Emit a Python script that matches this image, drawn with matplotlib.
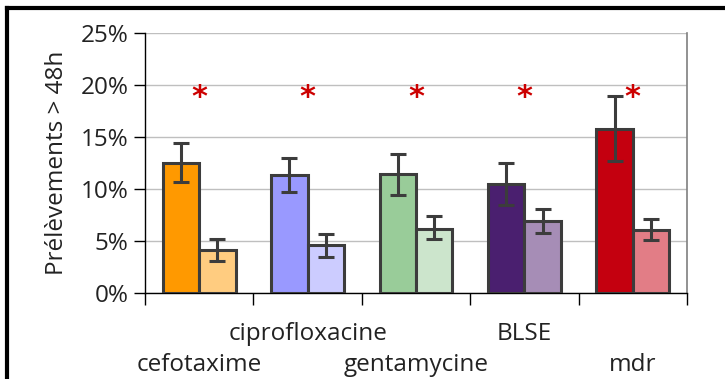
import matplotlib
matplotlib.use("Agg")
import matplotlib.pyplot as plt
import numpy as np
from matplotlib.lines import Line2D

plt.rcParams["font.family"] = ["Open Sans", "DejaVu Sans"]

# données (%)
categories = ["cefotaxime", "ciprofloxacine", "gentamycine", "BLSE", "mdr"]
vals_dark = [12.5, 11.3, 11.4, 10.5, 15.8]
err_dark_hi = [14.4, 13.0, 13.4, 12.5, 18.9]
err_dark_lo = [10.7, 9.7, 9.4, 8.5, 12.7]
vals_light = [4.1, 4.6, 6.2, 6.9, 6.1]
err_light_hi = [5.2, 5.7, 7.4, 8.05, 7.1]
err_light_lo = [3.1, 3.5, 5.15, 5.75, 5.1]
sig_y = [18.8, 18.8, 18.8, 18.8, 18.8]

colors_dark = ["#FF9900", "#9999FF", "#99CC99", "#4A1F6F", "#C4000F"]
colors_light = ["#FFCC80", "#CCCCFF", "#CCE5CC", "#A68DB6", "#E27D86"]
EDGE = "#3C3C3C"
FS = 17.5

fig = plt.figure(figsize=(7.25, 3.79), dpi=100)
ax = fig.add_axes([145 / 725, 1 - 293 / 379, 542 / 725, 260 / 379])

x = np.arange(len(categories))
w = 0.336

ax.bar(x - w / 2, vals_dark, w, color=colors_dark, edgecolor=EDGE, linewidth=2.2, zorder=3)
ax.bar(x + w / 2, vals_light, w, color=colors_light, edgecolor=EDGE, linewidth=2.2, zorder=3)

lo_d = np.array(vals_dark) - np.array(err_dark_lo)
hi_d = np.array(err_dark_hi) - np.array(vals_dark)
lo_l = np.array(vals_light) - np.array(err_light_lo)
hi_l = np.array(err_light_hi) - np.array(vals_light)
ax.errorbar(x - w / 2, vals_dark, yerr=[lo_d, hi_d], fmt="none", ecolor=EDGE,
            elinewidth=2.2, capsize=5.5, capthick=2.2, zorder=4)
ax.errorbar(x + w / 2, vals_light, yerr=[lo_l, hi_l], fmt="none", ecolor=EDGE,
            elinewidth=2.2, capsize=5.5, capthick=2.2, zorder=4)

for xi, yi in zip(x, sig_y):
    ax.text(xi, yi, "*", ha="center", va="center", fontsize=22, fontweight="bold",
            color="#CC0000", family="DejaVu Sans", zorder=5)

ax.set_xlim(-0.5, len(categories) - 0.5)
ax.set_ylim(0, 25)
ax.set_yticks(np.arange(0, 26, 5))
ax.set_yticklabels([f"{v}%" for v in range(0, 26, 5)])
ax.yaxis.grid(True, color="#BFBFBF", linewidth=1.0, zorder=0)
ax.set_axisbelow(True)

ax.set_xticks(x)
ax.set_xticklabels(categories)
ax.set_xticks(np.arange(-0.5, len(categories), 1.0), minor=True)
ax.tick_params(axis="x", which="major", length=0, labelsize=FS, colors="#222222")
ax.tick_params(axis="x", which="minor", length=8.5, width=1.0, direction="out", color="black")
ax.tick_params(axis="y", length=8, width=1.0, direction="out", labelsize=FS,
               pad=4, labelcolor="#222222")
for i, t in enumerate(ax.xaxis.get_major_ticks()):
    t.set_pad(21 if i % 2 == 1 else 43)

for s in ["left", "bottom"]:
    ax.spines[s].set_color("black")
    ax.spines[s].set_linewidth(1.0)
ax.spines["top"].set_visible(False)
ax.spines["right"].set_color("#7F7F7F")
ax.spines["right"].set_linewidth(1.2)

ax.set_ylabel("Prélèvements > 48h", fontsize=FS, color="#222222", labelpad=8)

# cadre noir (haut et gauche)
fig.add_artist(Line2D([7 / 725, 1.0], [1 - 8 / 379, 1 - 8 / 379], color="black", linewidth=3))
fig.add_artist(Line2D([7 / 725, 7 / 725], [0.0, 1 - 8 / 379], color="black", linewidth=3))

fig.savefig("out.png", dpi=100, facecolor="white")
